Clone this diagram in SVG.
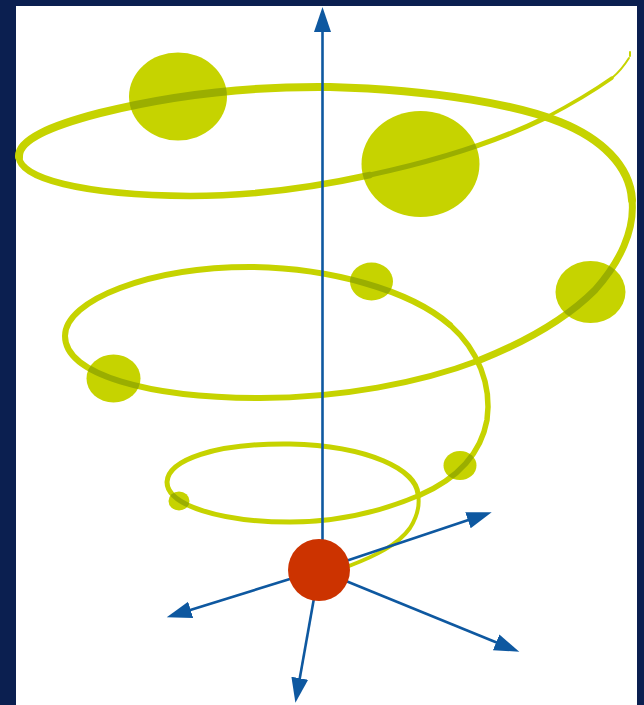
<svg xmlns="http://www.w3.org/2000/svg" width="644" height="705" viewBox="0 0 644 705">
<style>
.sp{fill:none;stroke:#c6d300;stroke-linecap:round;stroke-linejoin:round}
.ball{fill:#c6d300;mix-blend-mode:multiply}
.ax{stroke:#0e58a0;stroke-width:2.6;fill:none}
</style>
<defs>
<marker id="ah" markerUnits="userSpaceOnUse" markerWidth="26" markerHeight="18" refX="13" refY="8.5" orient="auto" viewBox="0 0 26 17">
<path d="M0,0 L25,8.5 L0,17 z" fill="#0e58a0"/>
</marker>
</defs>
<rect x="0" y="0" width="644" height="705" fill="#0b1f50"/>
<rect x="16" y="6" width="621" height="699" fill="#ffffff"/>
<g id="spiral">
<path class="sp" stroke-width="4" d="M349,566 C375,556 398,545 410,528 C417,517 420,505 418,494"/>
<path class="sp" stroke-width="5" d="M418,494 C416,470 370,446 290,444 C215,443 168,460 167,482 C167,505 220,522 290,522 C340,522 385,510 420,495"/>
<path class="sp" stroke-width="5.5" d="M420,495 C452,481 480,458 487,420 C492,385 478,350 450,325"/>
<path class="sp" stroke-width="6" d="M450,325 C410,290 330,268 250,267 C150,267 65,300 65,336 C65,375 150,398 260,398 C340,398 420,383 480,360"/>
<path class="sp" stroke-width="7" d="M480,360 C530,340 570,315 595,290 C620,262 635,230 632,200"/>
<path class="sp" stroke-width="8" d="M632,200 C630,165 600,138 560,122 C520,106 440,90 330,87 C240,86 160,98 100,113 C50,126 18,140 19,157"/>
<path class="sp" stroke-width="6.5" d="M19,157 C20,178 80,195 190,196 C260,196 320,186 370,175"/>
<path class="sp" stroke-width="5" d="M370,175 C440,160 500,140 545,118"/>
<path class="sp" stroke-width="3.5" d="M545,118 C570,105 595,90 612,78"/>
<path class="sp" stroke-width="2" d="M612,78 C618,73 624,66 629,58"/>
<path class="sp" stroke-width="2" d="M630,52 L630,56"/>
</g>
<g id="balls">
<ellipse id="b1" class="ball" cx="178" cy="96.5" rx="49" ry="44"/>
<ellipse id="b2" class="ball" cx="420.5" cy="164" rx="59" ry="53"/>
<ellipse id="b3" class="ball" cx="590.5" cy="292" rx="35" ry="31"/>
<ellipse id="b4" class="ball" cx="371.5" cy="281.5" rx="21.5" ry="19"/>
<ellipse id="b5" class="ball" cx="113.5" cy="378.5" rx="27" ry="24"/>
<ellipse id="b6" class="ball" cx="460" cy="465.5" rx="16.5" ry="14.5"/>
<ellipse id="b7" class="ball" cx="179" cy="501" rx="10.5" ry="9.5"/>
</g>
<g id="connectors">
<line class="ax" x1="322.5" y1="545" x2="322.5" y2="19" marker-end="url(#ah)"/>
<line class="ax" x1="319" y1="570" x2="480.3" y2="516.1" marker-end="url(#ah)"/>
<line class="ax" x1="319" y1="570" x2="178.2" y2="613.7" marker-end="url(#ah)"/>
<line class="ax" x1="319" y1="570" x2="297.5" y2="691" marker-end="url(#ah)"/>
<line class="ax" x1="319" y1="570" x2="508.2" y2="647.2" marker-end="url(#ah)"/>
</g>
<g id="origin">
<circle cx="319" cy="570" r="31" fill="#cc3300"/>
</g>
</svg>
